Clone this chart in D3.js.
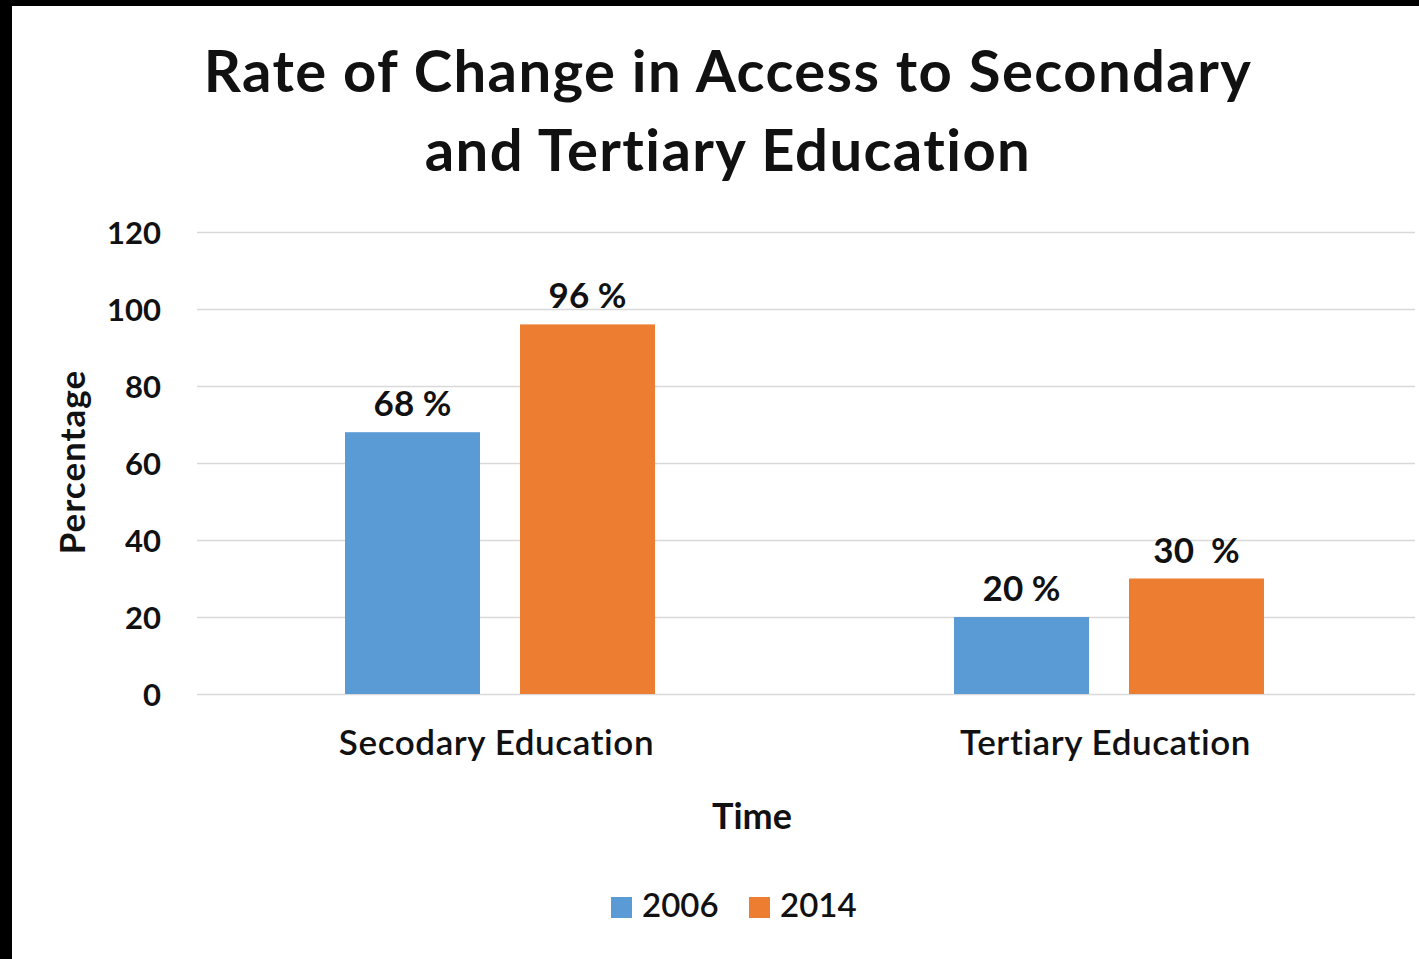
<!DOCTYPE html>
<html>
<head>
<meta charset="utf-8">
<script src="https://cdn.jsdelivr.net/npm/d3@7"></script>
<style>
  html, body { margin: 0; padding: 0; background: #000; }
  svg { display: block; font-family: Lato, "Open Sans", sans-serif; font-variant-ligatures: none; font-feature-settings: "liga" 0, "clig" 0; }
</style>
</head>
<body>
<svg id="chart" width="1419" height="959"></svg>
<script>
const categories = ["Secodary Education", "Tertiary Education"];
const years = ["2006", "2014"];
const values2006 = [68, 20];
const values2014 = [96, 30];
const valueLabels2006 = ["68 %", "20 %"];
const valueLabels2014 = ["96 %", "30  %"];
const yTicks = [0, 20, 40, 60, 80, 100, 120];
const colors = ["#5b9bd5", "#ed7d31"];

const svg = d3.select("#chart");
const width = 1419, height = 959;

// white card inside the black border
svg.append("rect")
  .attr("x", 12).attr("y", 6)
  .attr("width", width - 12).attr("height", height - 6)
  .attr("fill", "#fff");

const plot = { left: 197, right: 1415, top: 232, bottom: 694 };

const x0 = d3.scaleBand()
  .domain(categories)
  .range([plot.left, plot.right])
  .paddingInner(0)
  .paddingOuter(0);

const x1 = d3.scaleBand()
  .domain(years)
  .range([148, 458])
  .paddingInner(0.2286);

const y = d3.scaleLinear()
  .domain([0, 120])
  .range([plot.bottom, plot.top]);

// gridlines
svg.append("g")
  .selectAll("line")
  .data(yTicks)
  .enter()
  .append("line")
  .attr("x1", plot.left)
  .attr("x2", plot.right)
  .attr("y1", d => y(d) + 0.5)
  .attr("y2", d => y(d) + 0.5)
  .attr("stroke", "#d9d9d9")
  .attr("stroke-width", 1.5);

// y tick labels
svg.append("g")
  .selectAll("text")
  .data(yTicks)
  .enter()
  .append("text")
  .attr("x", 161)
  .attr("y", d => y(d) + 12)
  .attr("text-anchor", "end")
  .attr("font-size", 31)
  .attr("font-weight", "bold")
  .attr("fill", "#111")
  .text(d => d);

const rows = categories.map((c, i) => ({
  cat: c,
  bars: [
    { year: years[0], v: values2006[i], label: valueLabels2006[i] },
    { year: years[1], v: values2014[i], label: valueLabels2014[i] }
  ]
}));

const catG = svg.append("g")
  .selectAll("g")
  .data(rows)
  .enter()
  .append("g")
  .attr("transform", d => `translate(${x0(d.cat)},0)`);

catG.selectAll("rect")
  .data(d => d.bars)
  .enter()
  .append("rect")
  .attr("x", d => x1(d.year))
  .attr("y", d => y(d.v))
  .attr("width", x1.bandwidth())
  .attr("height", d => y(0) - y(d.v))
  .attr("fill", (d, i) => colors[i]);

catG.selectAll("text.val")
  .data(d => d.bars)
  .enter()
  .append("text")
  .attr("class", "val")
  .attr("x", d => x1(d.year) + x1.bandwidth() / 2)
  .attr("y", d => y(d.v) - 16)
  .attr("text-anchor", "middle")
  .attr("font-size", 35)
  .attr("font-weight", "bold")
  .attr("fill", "#111")
  .style("white-space", "pre")
  .text(d => d.label);

// category labels
svg.append("g")
  .selectAll("text")
  .data(categories)
  .enter()
  .append("text")
  .attr("x", d => x0(d) + x0.bandwidth() / 2 - 5)
  .attr("y", 755)
  .attr("text-anchor", "middle")
  .attr("font-size", 35)
  .attr("font-weight", 600)
  .attr("letter-spacing", 0.6)
  .attr("fill", "#111")
  .text(d => d);

// title
const title = svg.append("text")
  .attr("text-anchor", "middle")
  .attr("font-size", 58)
  .attr("font-weight", "bold")
  .attr("letter-spacing", 1.4)
  .attr("fill", "#111");
title.append("tspan").attr("x", 728).attr("y", 92).text("Rate of Change in Access to Secondary");
title.append("tspan").attr("x", 728).attr("y", 171).text("and Tertiary Education");

// axis titles
svg.append("text")
  .attr("x", 752).attr("y", 829)
  .attr("text-anchor", "middle")
  .attr("font-size", 36)
  .attr("font-weight", "bold")
  .attr("fill", "#111")
  .text("Time");

svg.append("text")
  .attr("transform", "translate(85,462) rotate(-90)")
  .attr("text-anchor", "middle")
  .attr("font-size", 35)
  .attr("font-weight", "bold")
  .attr("letter-spacing", 1)
  .attr("fill", "#111")
  .text("Percentage");

// legend
const legend = svg.append("g")
  .selectAll("g")
  .data(years)
  .enter()
  .append("g")
  .attr("transform", (d, i) => `translate(${611 + i * 138},897)`);

legend.append("rect")
  .attr("width", 21).attr("height", 21)
  .attr("fill", (d, i) => colors[i]);

legend.append("text")
  .attr("x", 31).attr("y", 20)
  .attr("font-size", 33)
  .attr("font-weight", 600)
  .attr("fill", "#111")
  .text(d => d);
</script>
</body>
</html>
